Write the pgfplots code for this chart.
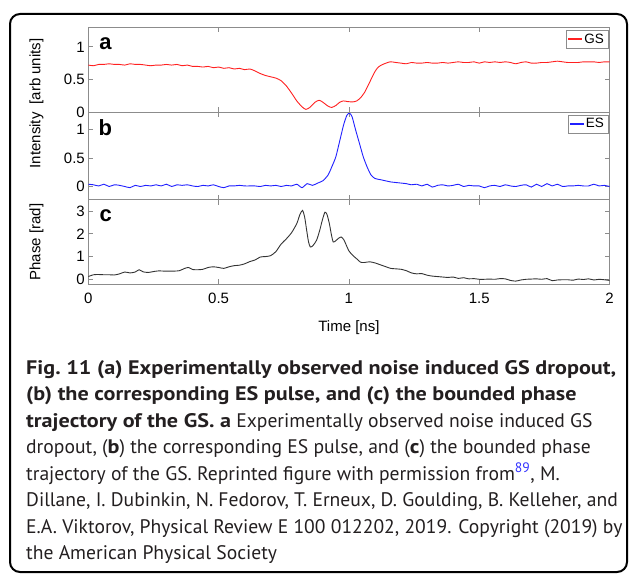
\documentclass[border=0pt]{standalone}
\usepackage{fontspec}
\setmainfont{PT Sans}[BoldFeatures={FakeStretch=1.13}]
\newfontfamily\arial{Liberation Sans}
\usepackage{pgfplots}
\usepackage{pgfplotstable}
\pgfplotsset{compat=1.18}
\definecolor{axgray}{HTML}{8C8C8C}
\definecolor{captxt}{HTML}{231F20}
\definecolor{refblue}{HTML}{3333FF}
\definecolor{gsred}{HTML}{FF2020}
\definecolor{esblue}{HTML}{2020FF}
\definecolor{phaseblk}{HTML}{333333}

\pgfplotstableread{
t v
0.00 0.72
0.02 0.71
0.04 0.73
0.06 0.73
0.08 0.74
0.10 0.73
0.12 0.73
0.14 0.72
0.16 0.74
0.18 0.73
0.20 0.73
0.22 0.72
0.24 0.71
0.26 0.72
0.28 0.72
0.30 0.73
0.32 0.72
0.34 0.73
0.36 0.71
0.38 0.72
0.40 0.70
0.42 0.70
0.44 0.69
0.46 0.70
0.48 0.68
0.50 0.69
0.52 0.67
0.54 0.68
0.56 0.66
0.58 0.67
0.60 0.65
0.62 0.66
0.64 0.63
0.66 0.59
0.68 0.56
0.70 0.54
0.72 0.52
0.74 0.48
0.76 0.40
0.78 0.29
0.80 0.17
0.82 0.08
0.835 0.04
0.85 0.07
0.87 0.15
0.886 0.18
0.90 0.15
0.92 0.09
0.934 0.07
0.95 0.10
0.965 0.15
0.979 0.17
0.995 0.16
1.015 0.155
1.03 0.17
1.045 0.22
1.06 0.30
1.08 0.46
1.10 0.62
1.113 0.69
1.13 0.73
1.158 0.77
1.18 0.76
1.20 0.75
1.22 0.74
1.24 0.76
1.26 0.75
1.28 0.75
1.30 0.76
1.32 0.75
1.34 0.75
1.36 0.76
1.38 0.75
1.40 0.76
1.42 0.77
1.44 0.76
1.46 0.76
1.48 0.77
1.50 0.75
1.52 0.77
1.54 0.76
1.56 0.77
1.58 0.76
1.60 0.77
1.62 0.76
1.64 0.74
1.66 0.76
1.68 0.77
1.70 0.75
1.72 0.75
1.74 0.76
1.76 0.76
1.78 0.77
1.80 0.78
1.82 0.77
1.84 0.76
1.86 0.76
1.88 0.76
1.90 0.77
1.92 0.77
1.94 0.77
1.96 0.76
1.98 0.77
2.00 0.77
}\gsdata

\pgfplotstableread{
t v
0.00 0.04
0.02 0.03
0.04 0.01
0.06 0.04
0.08 0.00
0.10 0.03
0.12 0.02
0.14 0.00
0.16 -0.02
0.18 0.02
0.20 0.00
0.22 0.02
0.24 0.01
0.26 0.03
0.28 0.01
0.30 0.04
0.32 0.00
0.34 0.03
0.36 0.02
0.38 0.03
0.40 0.01
0.42 0.00
0.44 0.02
0.46 0.01
0.48 0.03
0.50 0.00
0.52 -0.02
0.54 0.01
0.56 0.01
0.58 0.02
0.60 0.01
0.62 0.01
0.64 0.01
0.66 0.00
0.68 0.02
0.70 0.01
0.72 0.02
0.74 0.00
0.76 0.02
0.78 0.01
0.80 0.04
0.82 -0.02
0.84 0.05
0.86 0.02
0.88 0.06
0.90 0.10
0.92 0.20
0.935 0.35
0.95 0.52
0.965 0.80
0.98 1.08
0.992 1.24
1.002 1.28
1.012 1.22
1.025 1.00
1.04 0.76
1.055 0.52
1.07 0.34
1.085 0.20
1.10 0.14
1.12 0.12
1.14 0.10
1.16 0.08
1.18 0.07
1.20 0.06
1.22 0.05
1.24 0.03
1.26 0.04
1.28 0.01
1.30 0.04
1.32 -0.01
1.34 0.02
1.36 0.03
1.38 0.01
1.40 0.02
1.42 0.04
1.44 0.00
1.46 0.02
1.48 0.01
1.50 0.01
1.52 -0.02
1.54 0.01
1.56 0.02
1.58 0.00
1.60 0.03
1.62 0.01
1.64 0.00
1.66 0.02
1.68 0.03
1.70 -0.01
1.72 0.04
1.74 0.00
1.76 0.05
1.78 0.01
1.80 0.04
1.82 0.00
1.84 0.01
1.86 0.01
1.88 0.02
1.90 0.01
1.92 0.01
1.94 0.04
1.96 0.01
1.98 0.02
2.00 0.00
}\esdata

\pgfplotstableread{
t v
0.00 0.12
0.02 0.20
0.04 0.21
0.06 0.20
0.08 0.20
0.10 0.19
0.12 0.24
0.14 0.32
0.16 0.28
0.18 0.32
0.195 0.42
0.21 0.33
0.23 0.30
0.25 0.34
0.27 0.37
0.29 0.36
0.31 0.36
0.33 0.36
0.35 0.38
0.37 0.48
0.385 0.52
0.40 0.43
0.42 0.42
0.44 0.44
0.46 0.52
0.48 0.55
0.50 0.52
0.52 0.48
0.54 0.55
0.56 0.60
0.58 0.62
0.60 0.68
0.62 0.78
0.64 0.85
0.66 0.98
0.68 1.00
0.70 1.04
0.72 1.22
0.74 1.55
0.76 1.78
0.78 2.05
0.80 2.45
0.812 2.85
0.822 3.03
0.83 2.75
0.838 2.15
0.845 1.65
0.852 1.42
0.862 1.48
0.876 1.72
0.888 2.15
0.898 2.60
0.908 2.95
0.916 2.85
0.925 2.45
0.933 1.95
0.940 1.64
0.950 1.70
0.960 1.80
0.970 1.86
0.980 1.75
0.990 1.50
1.000 1.25
1.015 1.05
1.030 0.90
1.045 0.75
1.06 0.74
1.08 0.77
1.10 0.72
1.12 0.64
1.14 0.56
1.16 0.48
1.18 0.46
1.20 0.44
1.22 0.38
1.24 0.28
1.26 0.24
1.28 0.25
1.30 0.18
1.32 0.14
1.34 0.12
1.36 0.10
1.38 0.08
1.40 0.10
1.42 0.04
1.44 0.07
1.46 0.02
1.48 0.03
1.50 0.00
1.52 0.00
1.54 0.01
1.56 0.00
1.58 0.03
1.60 0.02
1.62 -0.05
1.64 -0.08
1.66 -0.03
1.68 0.00
1.70 0.01
1.72 0.02
1.74 0.00
1.76 0.03
1.78 -0.06
1.80 -0.03
1.82 -0.02
1.84 -0.02
1.86 -0.04
1.88 0.01
1.90 -0.01
1.92 0.02
1.94 -0.03
1.96 0.00
1.98 -0.02
2.00 -0.05
}\phdata

\pgfplotsset{
  panel/.style={
    scale only axis, width=521.2pt, xmin=0, xmax=2,
    anchor=south west,
    axis line style={axgray, line width=0.7pt},
    every tick/.style={axgray, line width=0.7pt},
    major tick length=5pt, tick align=inside,
    xtick={0,0.5,1,1.5,2},
    tick label style={font=\arial\fontsize{15}{18}\selectfont, text=black},
    /pgf/number format/assume math mode=true,
    legend style={draw=axgray, fill=white, font=\arial\fontsize{13.5}{15}\selectfont,
      at={(rel axis cs:1,1)}, anchor=north east, xshift=-1.3pt, yshift=-2.7pt,
      inner xsep=2pt, inner ysep=1.5pt, line width=0.7pt},
    legend cell align=left,
  },
  plotline/.style={line width=0.9pt, smooth, tension=0.4, mark=none},
}

\begin{document}
\begin{tikzpicture}[x=1pt,y=1pt]
\path[use as bounding box] (0,0) rectangle (629,573);
\draw[line width=2pt, rounded corners=10pt] (10,1) rectangle (627,559);

% panel c
\begin{axis}[panel, at={(88.3pt,288.7pt)}, height=84.6pt,
  ymin=-0.22, ymax=3.5, ytick={0,1,2,3},
  xticklabel style={yshift=-5pt},
  xlabel={Time [ns]},
  xlabel style={at={(axis description cs:0.5,0)}, anchor=base, yshift=-47.7pt,
    font=\arial\fontsize{15}{18}\selectfont}]
\addplot[plotline, color=phaseblk] table[x=t, y=v] {\phdata};
\node[anchor=base west, inner sep=0pt, font=\arial\bfseries\fontsize{22}{22}\selectfont]
  at (rel axis cs:0,1) [xshift=11pt, yshift=-22pt] {c};
\end{axis}

% panel b
\begin{axis}[panel, at={(88.3pt,373.3pt)}, height=87.7pt,
  ymin=-0.23, ymax=1.3, ytick={0,0.5,1}, xticklabels={},
  legend image code/.code={\fill[esblue] (0pt,-0.5pt) rectangle (13pt,0.5pt);}]
\addplot[plotline, color=esblue] table[x=t, y=v] {\esdata};
\addlegendentry{ES}
\node[anchor=base west, inner sep=0pt, font=\arial\bfseries\fontsize{22}{22}\selectfont]
  at (rel axis cs:0,1) [xshift=10pt, yshift=-23.7pt] {b};
\end{axis}

% panel a
\begin{axis}[panel, at={(88.3pt,461pt)}, height=84.7pt,
  ymin=0, ymax=1.3, ytick={0,0.5,1}, xticklabels={},
  legend image code/.code={\fill[gsred] (0pt,-0.5pt) rectangle (13pt,0.5pt);}]
\addplot[plotline, color=gsred] table[x=t, y=v] {\gsdata};
\addlegendentry{GS}
\node[anchor=base west, inner sep=0pt, font=\arial\bfseries\fontsize{22}{22}\selectfont]
  at (rel axis cs:0,1) [xshift=11pt, yshift=-22.7pt] {a};
\end{axis}

\node[rotate=90, font=\arial\fontsize{15}{18}\selectfont] at (36.5,469.5) {Intensity\hspace{8pt}[arb units]};
\node[rotate=90, font=\arial\fontsize{15}{18}\selectfont] at (36.5,331) {Phase [rad]};

\begin{scope}[every node/.style={anchor=base west, inner sep=0pt, text=captxt, font=\fontsize{19.6}{22}\selectfont}]
\node at (26,198.7) {\bfseries Fig.\ 11 (a) Experimentally observed noise induced GS dropout,};
\node at (26,172.2) {\bfseries (b) the corresponding ES pulse, and (c) the bounded phase};
\node at (26,145.7) {\textbf{trajectory of the GS. a} Experimentally observed noise induced GS};
\node at (26,119.2) {dropout, (\textbf{b}) the corresponding ES pulse, and (\textbf{c}) the bounded phase};
\node at (26,92.7) {trajectory of the GS. Reprinted figure with permission from\textsuperscript{\color{refblue}89}, M.};
\node at (26,66.2) {Dillane, I. Dubinkin, N. Fedorov, T. Erneux, D. Goulding, B. Kelleher, and};
\node at (26,39.7) {E.A. Viktorov, Physical Review E 100 012202, 2019. Copyright (2019) by};
\node at (26,13.2) {the American Physical Society};
\end{scope}
\end{tikzpicture}
\end{document}
